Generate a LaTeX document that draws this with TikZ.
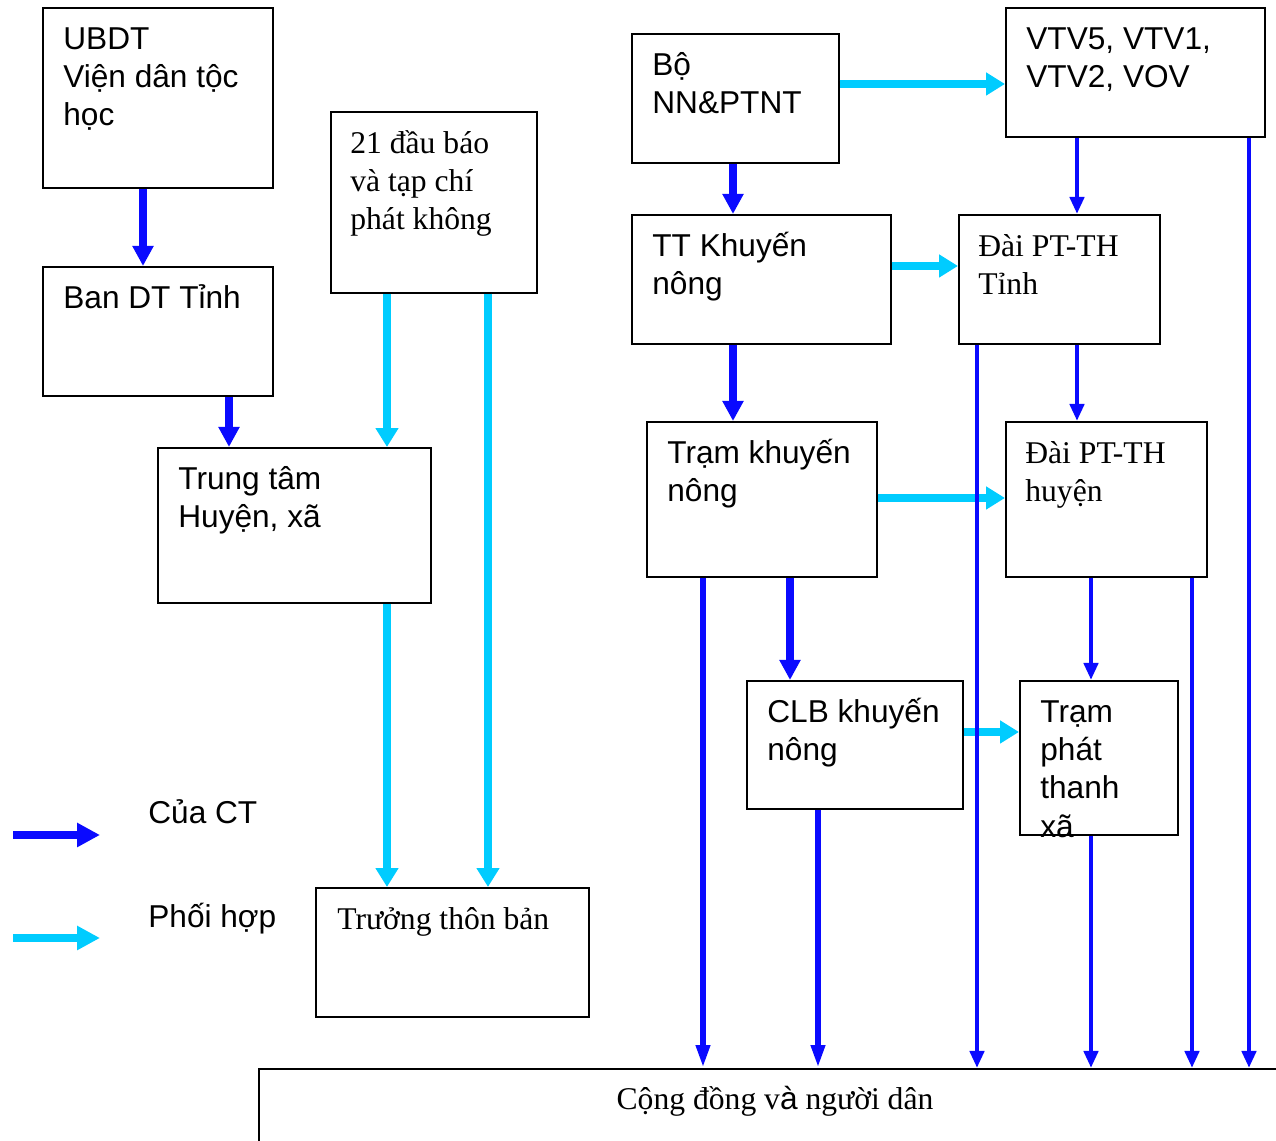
\documentclass[tikz,border=0pt]{standalone}
\usepackage{fontspec}
\setmainfont{Liberation Serif}
\newfontfamily\arialf{Liberation Sans}
\usetikzlibrary{arrows.meta,calc}
\definecolor{dblue}{RGB}{10,10,255}
\definecolor{cyanc}{RGB}{0,204,255}
\begin{document}
\begin{tikzpicture}[x=0.02cm,y=-0.02cm,
  box/.style={draw=black, line width=1pt, inner sep=0pt, anchor=north west, fill=white},
  st/.style={font=\arialf\fontsize{18}{21.8}\selectfont, align=left, inner sep=0pt, anchor=north west},
  rt/.style={font=\fontsize{18}{21.8}\selectfont, align=left, inner sep=0pt, anchor=north west},
  bb/.style={draw=dblue, line width=4pt, -{Triangle[length=11.5pt,width=11.5pt]}},
  bl/.style={draw=dblue, line width=3.8pt, -{Triangle[length=13pt,width=7.5pt]}},
  bt/.style={draw=dblue, line width=2.8pt, -{Triangle[length=9.7pt,width=8pt]}},
  cy/.style={draw=cyanc, line width=4.5pt, -{Triangle[length=10.8pt,width=12.5pt]}},
  legb/.style={draw=dblue, line width=4.5pt, -{Triangle[length=13pt,width=13pt]}},
  legc/.style={draw=cyanc, line width=4.5pt, -{Triangle[length=13pt,width=13pt]}}
]
\useasboundingbox (0,0) rectangle (1276,1141);

% boxes
\node[box, minimum width=4.6cm,  minimum height=3.6cm]  (ubdt) at (42,7) {};
\node[box, minimum width=4.6cm,  minimum height=2.58cm] (ban) at (42,266) {};
\node[box, minimum width=5.46cm, minimum height=3.1cm]  (ttam) at (157,447) {};
\node[box, minimum width=4.12cm, minimum height=3.62cm] (bao) at (330,111) {};
\node[box, minimum width=5.46cm, minimum height=2.58cm] (tthon) at (315,887) {};
\node[box, minimum width=4.14cm, minimum height=2.58cm] (bo) at (631,33) {};
\node[box, minimum width=5.18cm, minimum height=2.58cm] (vtv) at (1005,7) {};
\node[box, minimum width=5.18cm, minimum height=2.58cm] (ttkn) at (631,214) {};
\node[box, minimum width=4.02cm, minimum height=2.58cm] (daitinh) at (958,214) {};
\node[box, minimum width=4.6cm,  minimum height=3.1cm]  (tramkn) at (646,421) {};
\node[box, minimum width=4.02cm, minimum height=3.1cm]  (daihuyen) at (1005,421) {};
\node[box, minimum width=4.32cm, minimum height=2.56cm] (clb) at (746,680) {};
\node[box, minimum width=3.16cm, minimum height=3.08cm] (tramxa) at (1019,680) {};
\node[box, line width=1.2pt, minimum width=20.8cm, minimum height=2.4cm] (cd) at (258,1068) {};

% texts
\node[st] (ubdt-t) at ($(ubdt.north west)+(21,15)$) {\strut UBDT\\Viện dân tộc\\học};
\node[st] (ban-t) at ($(ban.north west)+(21,15)$) {\strut Ban DT Tỉnh};
\node[st] (ttam-t) at ($(ttam.north west)+(21,15)$) {\strut Trung tâm\\Huyện, xã};
\node[rt] (bao-t) at ($(bao.north west)+(20,15)$) {\strut 21 đầu báo\\và tạp chí\\phát không};
\node[rt] (tthon-t) at ($(tthon.north west)+(22,15)$) {\strut Trưởng thôn bản};
\node[st] (bo-t) at ($(bo.north west)+(21,15)$) {\strut Bộ\\NN\&PTNT};
\node[st] (vtv-t) at ($(vtv.north west)+(21,15)$) {\strut VTV5, VTV1,\\VTV2, VOV};
\node[st] (ttkn-t) at ($(ttkn.north west)+(21,15)$) {\strut TT Khuyến\\nông};
\node[rt] (daitinh-t) at ($(daitinh.north west)+(20,15)$) {\strut Đài PT-TH\\Tỉnh};
\node[st] (tramkn-t) at ($(tramkn.north west)+(21,15)$) {\strut Trạm khuyến\\nông};
\node[rt] (daihuyen-t) at ($(daihuyen.north west)+(20,15)$) {\strut Đài PT-TH\\huyện};
\node[st] (clb-t) at ($(clb.north west)+(21,15)$) {\strut CLB khuyến\\nông};
\node[st] (tramxa-t) at ($(tramxa.north west)+(21,15)$) {\strut Trạm\\phát\\thanh\\xã};
\node[rt, anchor=base] (cd-t) at ($(cd.north west)+(517,42)$) {Cộng đồng v{\arialf à} người dân};

% column / row helpers
\foreach \xx in {143,229,387,488,703,733,790,818,977,1077,1091,1192,1249}
  \coordinate (x\xx) at (\xx,0);
\foreach \yy in {84,266,498,732}
  \coordinate (y\yy) at (0,\yy);

% cyan (coordination) arrows
\draw[cy] (bao.south -| x387) -- (ttam.north -| x387);
\draw[cy] (bao.south -| x488) -- (tthon.north -| x488);
\draw[cy] (ttam.south -| x387) -- (tthon.north -| x387);
\draw[cy] (bo.east |- y84) -- (vtv.west |- y84);
\draw[cy] (ttkn.east |- y266) -- (daitinh.west |- y266);
\draw[cy] (tramkn.east |- y498) -- (daihuyen.west |- y498);
\draw[cy] (clb.east |- y732) -- (tramxa.west |- y732);

% blue arrows
\draw[bb] (ubdt.south -| x143) -- (ban.north -| x143);
\draw[bb] (ban.south -| x229) -- (ttam.north -| x229);
\draw[bb] (bo.south -| x733) -- (ttkn.north -| x733);
\draw[bb] (ttkn.south -| x733) -- (tramkn.north -| x733);
\draw[bb] (tramkn.south -| x790) -- (clb.north -| x790);
\draw[bl] (tramkn.south -| x703) -- (cd.north -| x703);
\draw[bl] (clb.south -| x818) -- (cd.north -| x818);
\draw[bt] (vtv.south -| x1077) -- (daitinh.north -| x1077);
\draw[bt] (daitinh.south -| x1077) -- (daihuyen.north -| x1077);
\draw[bt] (daitinh.south -| x977) -- (cd.north -| x977);
\draw[bt] (daihuyen.south -| x1091) -- (tramxa.north -| x1091);
\draw[bt] (daihuyen.south -| x1192) -- (cd.north -| x1192);
\draw[bt] (tramxa.south -| x1091) -- (cd.north -| x1091);
\draw[bt] (vtv.south -| x1249) -- (cd.north -| x1249);

% legend
\coordinate (l1a) at (13,835); \coordinate (l1b) at (100,835);
\coordinate (l2a) at (13,938); \coordinate (l2b) at (100,938);
\draw[legb] (l1a) -- (l1b);
\draw[legc] (l2a) -- (l2b);
\node[st, anchor=base west] (lg1) at (148,824) {Của CT};
\node[st, anchor=base west] (lg2) at (148,928) {Phối hợp};
\end{tikzpicture}
\end{document}
